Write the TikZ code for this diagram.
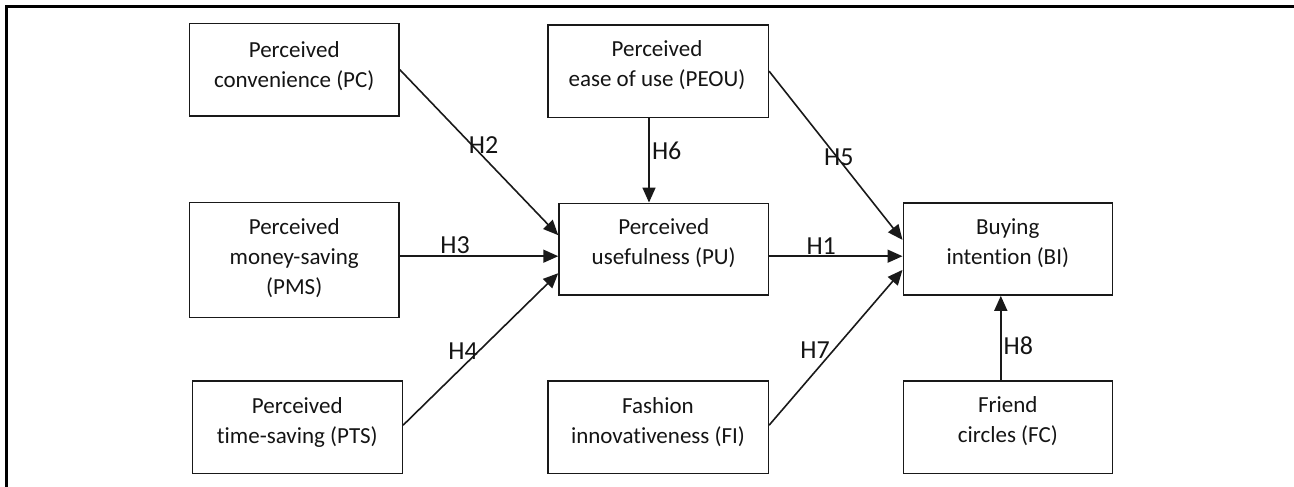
\documentclass[tikz,border=0pt]{standalone}
\usepackage{fontspec}
\setmainfont{Carlito}[Ligatures={NoCommon}]
\usetikzlibrary{arrows.meta}
\begin{document}
\begin{tikzpicture}[x=1pt,y=1pt,
  box/.style={draw=black!90, line width=1.6pt, rectangle, inner sep=0pt},
  txt/.style={anchor=base, inner sep=0pt, text=black!92, font=\fontsize{23}{30}\selectfont},
  hyp/.style={inner sep=0pt, text=black!92, font=\fontsize{26}{30}\selectfont},
  arr/.style={line width=1.6pt, draw=black!90, -{Triangle[length=15pt,width=13pt]}},
  framestyle/.style={line width=2.6pt, draw=black}]
\useasboundingbox (0,0) rectangle (1294,487);
% frame (left and top edges)
\coordinate (fBL) at (6.5,0);
\coordinate (fTL) at (6.5,480.3);
\coordinate (fTR) at (1294,480.3);
\draw[framestyle] (fBL) -- (fTL) -- (fTR);
% boxes
\node[box, minimum width=209.7pt, minimum height=92.7pt] (PC)   at (294.2,417.3) {};
\node[box, minimum width=209.7pt, minimum height=115pt]  (PMS)  at (294.2,226.8) {};
\node[box, minimum width=210pt,   minimum height=92.3pt] (PTS)  at (297.3,59.8) {};
\node[box, minimum width=220.6pt, minimum height=92.3pt] (PEOU) at (658,415.8) {};
\node[box, minimum width=209.3pt, minimum height=91.7pt] (PU)   at (663.7,237.8) {};
\node[box, minimum width=220.6pt, minimum height=92.3pt] (FI)   at (658,59.8) {};
\node[box, minimum width=209pt,   minimum height=92.3pt] (BI)   at (1007.8,238.1) {};
\node[box, minimum width=209pt,   minimum height=92.3pt] (FC)   at (1007.8,59.8) {};
% box texts
\node[txt] (PCt)   at (294.2,429.7) {\begin{tabular}[t]{@{}c@{}}Perceived\\convenience (PC)\end{tabular}};
\node[txt] (PMSt)  at (294.2,252)   {\begin{tabular}[t]{@{}c@{}}Perceived\\money-saving\\(PMS)\end{tabular}};
\node[txt] (PTSt)  at (297.3,73.7)  {\begin{tabular}[t]{@{}c@{}}Perceived\\time-saving (PTS)\end{tabular}};
\node[txt] (PEOUt) at (657,430.7)   {\begin{tabular}[t]{@{}c@{}}Perceived\\ease of use (PEOU)\end{tabular}};
\node[txt] (PUt)   at (663.7,252.7) {\begin{tabular}[t]{@{}c@{}}Perceived\\usefulness (PU)\end{tabular}};
\node[txt] (FIt)   at (658,73.7)    {\begin{tabular}[t]{@{}c@{}}Fashion\\innovativeness (FI)\end{tabular}};
\node[txt] (BIt)   at (1007.8,252)  {\begin{tabular}[t]{@{}c@{}}Buying\\intention (BI)\end{tabular}};
\node[txt] (FCt)   at (1007.8,74.3) {\begin{tabular}[t]{@{}c@{}}Friend\\circles (FC)\end{tabular}};
% connectors
\draw[arr] (PC.east) -- ([yshift=14pt]PU.west);
\draw[arr] ([yshift=4pt]PMS.east) -- ([yshift=4pt]PMS.east -| PU.west);
\draw[arr] ([yshift=2pt]PTS.east) -- ([yshift=-24pt]PU.west);
\draw[arr] ([xshift=-9pt]PEOU.south) -- ([xshift=-9pt]PEOU.south |- PU.north);
\draw[arr] (PEOU.east) -- ([yshift=9pt]BI.west);
\draw[arr] ([yshift=-7pt]PU.east) -- ([yshift=-7pt]PU.east -| BI.west);
\draw[arr] ([yshift=2pt]FI.east) -- ([yshift=-21pt]BI.west);
\draw[arr] ([xshift=-7pt]FC.north) -- ([xshift=-7pt]FC.north |- BI.south);
% hypothesis labels
\node[hyp] (H2) at (483.5,341.7) {H2};
\node[hyp] (H3) at (455,242) {H3};
\node[hyp] (H4) at (463,136.2) {H4};
\node[hyp] (H5) at (838.8,329.8) {H5};
\node[hyp] (H6) at (666.7,336.5) {H6};
\node[hyp] (H1) at (821.2,241.2) {H1};
\node[hyp] (H7) at (815,137) {H7};
\node[hyp] (H8) at (1018.3,141.7) {H8};
\end{tikzpicture}
\end{document}
